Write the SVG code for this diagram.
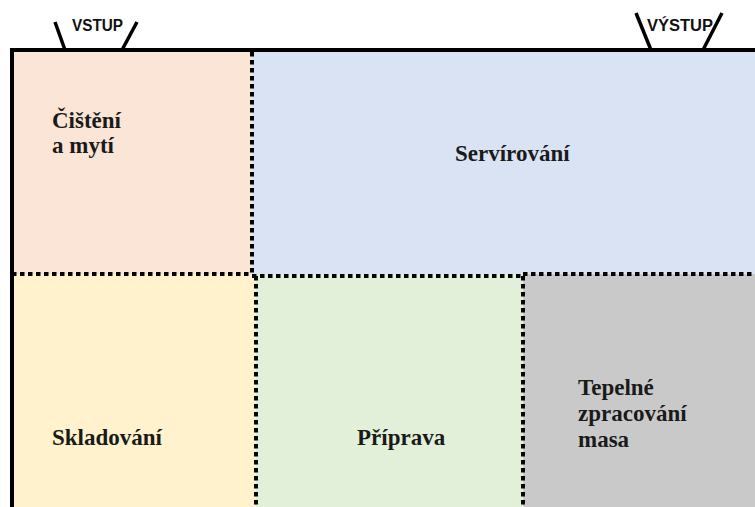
<svg xmlns="http://www.w3.org/2000/svg" width="755" height="507" viewBox="0 0 755 507">
<style>
.lbl{font-family:"Liberation Serif",serif;font-weight:bold;font-size:23px;fill:#1a1a1a}
.io{font-family:"Liberation Sans",Arial,sans-serif;font-weight:bold;font-size:16px;fill:#111}
.dot{stroke:#000;stroke-width:4;stroke-dasharray:4.5 3.5;fill:none}
.solid{stroke:#000;stroke-width:4;fill:none}
.tick{stroke:#000;stroke-width:3.5;fill:none}
</style>
<rect width="755" height="507" fill="#fff"/>
<g id="cisteni"><rect x="12" y="50" width="240" height="224" fill="#fbe5d6"/><text class="lbl" x="52" y="128">Čištění</text><text class="lbl" x="52" y="153">a mytí</text></g>
<g id="servirovani"><rect x="252" y="50" width="503" height="224" fill="#dae3f3"/><text class="lbl" x="455" y="161">Servírování</text></g>
<g id="skladovani"><rect x="12" y="274" width="244" height="233" fill="#fff2cc"/><text class="lbl" x="52" y="445">Skladování</text></g>
<g id="priprava"><rect x="256" y="274" width="267" height="233" fill="#e2f0d9"/><text class="lbl" x="357" y="445">Příprava</text></g>
<g id="tepelne"><rect x="523" y="274" width="232" height="233" fill="#c9c9c9"/><text class="lbl" x="578" y="395">Tepelné</text><text class="lbl" x="578" y="421">zpracování</text><text class="lbl" x="578" y="447">masa</text></g>
<g id="vstup"><line class="tick" x1="55" y1="22" x2="65" y2="50"/><line class="tick" x1="137" y1="22" x2="122" y2="50"/><text class="io" x="72" y="31" textLength="51" lengthAdjust="spacingAndGlyphs">VSTUP</text></g>
<g id="vystup"><line class="tick" x1="636" y1="13" x2="651" y2="50"/><line class="tick" x1="722" y1="13" x2="703" y2="50"/><text class="io" x="647" y="31" textLength="66" lengthAdjust="spacingAndGlyphs">VÝSTUP</text></g>
<g id="connectors">
<line class="dot" x1="252" y1="52" x2="252" y2="274"/>
<line class="dot" x1="12" y1="274" x2="252" y2="274"/>
<line class="dot" x1="252" y1="276" x2="523" y2="276"/>
<line class="dot" x1="523" y1="274" x2="755" y2="274"/>
<line class="dot" x1="256" y1="276" x2="256" y2="507"/>
<line class="dot" x1="523" y1="276" x2="523" y2="507"/>
<line class="solid" x1="10" y1="50" x2="755" y2="50"/>
<line class="solid" x1="12" y1="48" x2="12" y2="507"/>
</g>
</svg>
